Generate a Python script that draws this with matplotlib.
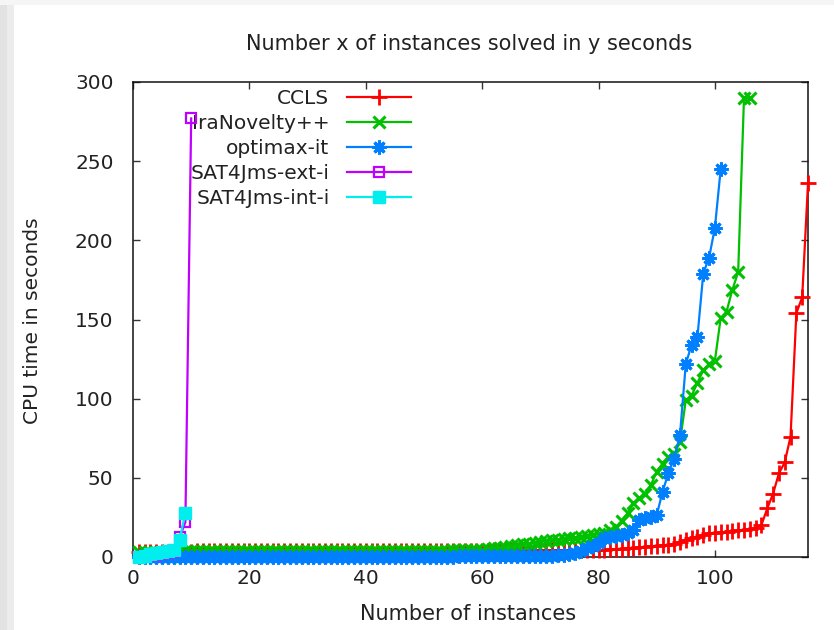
import matplotlib
matplotlib.use("Agg")
import matplotlib.pyplot as plt
from matplotlib.patches import Rectangle

plt.rcParams['font.family'] = ['DejaVu Sans']

# ---------------- data ----------------
title = "Number x of instances solved in y seconds"
xlabel = "Number of instances"
ylabel = "CPU time in seconds"
series_names = ["CCLS", "IraNovelty++", "optimax-it", "SAT4Jms-ext-i", "SAT4Jms-int-i"]
xticks = [0, 20, 40, 60, 80, 100]
yticks = [0, 50, 100, 150, 200, 250, 300]

ccls = [3.2, 3.2, 3.3, 3.3, 3.3, 3.4, 3.4, 3.4, 3.4, 3.4,
        3.5, 3.5, 3.5, 3.5, 3.5, 3.5, 3.6, 3.6, 3.6, 3.6,
        3.6, 3.6, 3.6, 3.7, 3.7, 3.7, 3.7, 3.7, 3.7, 3.7,
        3.7, 3.8, 3.8, 3.8, 3.8, 3.8, 3.8, 3.8, 3.8, 3.9,
        3.9, 3.9, 3.9, 3.9, 3.9, 3.9, 3.9, 4.0, 4.0, 4.0,
        4.0, 4.0, 4.0, 4.0, 4.1, 4.1, 4.1, 4.1, 4.1, 4.1,
        4.1, 4.2, 4.2, 4.2, 4.2, 4.2, 4.2, 4.2, 4.2, 4.2,
        4.2, 4.2, 4.2, 4.2, 4.3, 4.3, 4.3, 4.3, 4.3, 4.4,
        4.6, 4.8, 5.0, 5.3, 5.5, 5.8, 6.1, 6.5, 6.8, 7.1,
        7.4, 7.6, 8.5, 9.5, 10.8, 11.8, 12.8, 14.0, 15.0, 15.3,
        15.6, 16.0, 16.4, 16.8, 17.2, 17.6, 18.3, 20.2, 30.7, 40.0,
        52.8, 59.8, 76.0, 154.0, 164.0, 236.0]

iranovelty = [3.3, 3.3, 3.4, 3.4, 3.4, 3.5, 3.5, 3.5, 3.5, 3.5,
              3.6, 3.6, 3.6, 3.6, 3.6, 3.6, 3.7, 3.7, 3.7, 3.7,
              3.7, 3.7, 3.7, 3.8, 3.8, 3.8, 3.8, 3.8, 3.8, 3.8,
              3.8, 3.9, 3.9, 3.9, 3.9, 3.9, 3.9, 3.9, 3.9, 4.0,
              4.0, 4.0, 4.0, 4.0, 4.0, 4.0, 4.0, 4.1, 4.1, 4.1,
              4.1, 4.1, 4.1, 4.1, 4.2, 4.2, 4.2, 4.2, 4.2, 4.5,
              5.0, 5.5, 6.0, 6.5, 7.0, 7.5, 8.0, 8.5, 9.0, 9.6,
              10.2, 10.7, 10.9, 11.2, 11.8, 12.0, 12.4, 13.0, 14.0, 14.5,
              15.0, 17.0, 19.0, 23.0, 27.6, 33.9, 37.0, 40.0, 45.5, 53.9,
              59.0, 63.4, 65.0, 72.8, 99.0, 102.0, 110.0, 118.0, 122.0, 124.0,
              151.0, 155.0, 168.7, 180.0, 290.0, 290.0]

optimax = [0.2, 0.2, 0.2, 0.2, 0.2, 0.2, 0.2, 0.2, 0.2, 0.2,
           0.2, 0.2, 0.2, 0.2, 0.2, 0.2, 0.2, 0.2, 0.2, 0.2,
           0.2, 0.2, 0.2, 0.2, 0.2, 0.2, 0.2, 0.2, 0.2, 0.2,
           0.3, 0.3, 0.3, 0.3, 0.3, 0.3, 0.3, 0.3, 0.3, 0.3,
           0.3, 0.3, 0.3, 0.3, 0.3, 0.3, 0.3, 0.3, 0.3, 0.3,
           0.3, 0.3, 0.3, 0.3, 0.3, 0.4, 0.4, 0.4, 0.4, 0.4,
           0.4, 0.4, 0.4, 0.4, 0.4, 0.5, 0.5, 0.5, 0.5, 0.5,
           0.6, 0.8, 1.0, 1.5, 2.0, 2.3, 4.0, 5.5, 7.0, 8.6,
           12.0, 12.8, 13.5, 13.9, 15.0, 17.0, 23.4, 24.5, 25.5, 26.5,
           41.0, 53.0, 62.0, 77.0, 122.0, 134.0, 139.0, 179.0, 189.0, 208.0,
           245.0]

sat4j_ext = [0.2, 0.4, 0.8, 1.2, 1.8, 2.4, 3.2, 12.4, 22.0, 277.0]
sat4j_int = [0.3, 0.6, 2.0, 2.3, 3.0, 3.8, 4.4, 10.7, 28.0]

# ---------------- styling ----------------
colors = ["#ff0000", "#00c000", "#0080ff", "#c000ff", "#00eeee"]
txt = "#222222"
fs = 14.5

fig = plt.figure(figsize=(8.34, 6.3), dpi=100)
fig.patch.set_facecolor("white")
# light grey screenshot border on the left / top
fig.patches.append(Rectangle((0, 0), 7 / 834, 1, transform=fig.transFigure,
                             facecolor="#e2e2e2", edgecolor="none", zorder=-5))
fig.patches.append(Rectangle((7 / 834, 0), 7 / 834, 1, transform=fig.transFigure,
                             facecolor="#ececec", edgecolor="none", zorder=-5))
fig.patches.append(Rectangle((0, 1 - 5 / 630), 1, 5 / 630, transform=fig.transFigure,
                             facecolor="#f5f5f5", edgecolor="none", zorder=-5))

ax = fig.add_axes([133 / 834, 1 - 557 / 630, (808 - 133) / 834, (557 - 82) / 630])

def xs(vals):
    return list(range(1, len(vals) + 1))

lw = 1.6
ax.plot(xs(ccls), ccls, color=colors[0], lw=lw, marker="+", ms=11, mew=2.0,
        label=series_names[0], clip_on=False, zorder=3)
ax.plot(xs(iranovelty), iranovelty, color=colors[1], lw=lw, marker="x", ms=9, mew=2.2,
        label=series_names[1], clip_on=False, zorder=4)
ax.plot(xs(optimax), optimax, color=colors[2], lw=lw, marker=(8, 2, 0), ms=10, mew=2.2,
        label=series_names[2], clip_on=False, zorder=5)
ax.plot(xs(sat4j_ext), sat4j_ext, color=colors[3], lw=lw, marker="s", ms=7, mew=1.6,
        mfc="none", label=series_names[3], clip_on=False, zorder=6)
ax.plot(xs(sat4j_int), sat4j_int, color=colors[4], lw=lw, marker="s", ms=8.5, mew=1.0,
        mfc=colors[4], label=series_names[4], clip_on=False, zorder=7)

ax.set_xlim(0, 116)
ax.set_ylim(0, 300)
ax.set_xticks(xticks)
ax.set_yticks(yticks)
ax.tick_params(direction="in", top=True, right=True, length=5, width=1,
               labelsize=fs, labelcolor=txt, color="#333333")
ax.tick_params(axis="x", pad=9)
ax.tick_params(axis="y", pad=14)
for s in ax.spines.values():
    s.set_color("#111111")
    s.set_linewidth(1.1)

fig.text(469 / 834, 1 - 44 / 630, title, ha="center", va="center", fontsize=15, color=txt)
fig.text(468 / 834, 1 - 614 / 630, xlabel, ha="center", va="center", fontsize=15, color=txt)
fig.text(33 / 834, 1 - 321 / 630, ylabel, ha="center", va="center", rotation=90,
         fontsize=fs, color=txt)

leg = ax.legend(loc="upper right", bbox_to_anchor=(411 / 834, 1 - 89 / 630),
                bbox_transform=fig.transFigure, frameon=False, markerfirst=False,
                numpoints=1, handlelength=3.2, handletextpad=0.85, labelspacing=0.3,
                borderpad=0, borderaxespad=0, fontsize=fs)
for t in leg.get_texts():
    t.set_color(txt)
leg.set_zorder(2)

fig.savefig("out.png", dpi=100)
